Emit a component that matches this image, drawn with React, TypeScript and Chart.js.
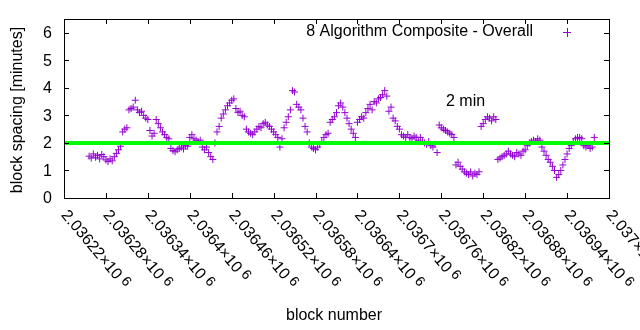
import React, { useEffect, useRef } from "react";
import { Chart, registerables } from "chart.js";

Chart.register(...registerables);

// ---- data ----
const firstBlock = 2036256;
const blockStep = 3;
const spacingMinutes: number[] = [
  1.52, 1.45, 1.6, 1.48, 1.55, 1.42, 1.58, 1.5, 1.38, 1.32,
  1.42, 1.35, 1.5, 1.62, 1.75, 1.88, 2.4, 2.5, 2.55, 3.2,
  3.25, 3.3, 3.55, 3.2, 3.1, 3.15, 3.0, 2.9, 2.85, 2.45,
  2.25, 2.35, 2.85, 2.7, 2.55, 2.4, 2.3, 2.2, 2.15, 1.8,
  1.72, 1.68, 1.75, 1.8, 1.85, 1.78, 1.9, 1.88, 2.2, 2.3,
  2.15, 2.1, 2.05, 2.1, 1.85, 1.75, 1.85, 1.65, 1.5, 1.4,
  2.0, 2.4, 2.6, 2.9, 3.05, 3.2, 3.35, 3.45, 3.55, 3.6,
  3.25, 3.1, 3.15, 3.0, 2.95, 2.5, 2.4, 2.35, 2.3, 2.4,
  2.5, 2.6, 2.55, 2.7, 2.75, 2.65, 2.6, 2.5, 2.4, 2.3,
  2.2, 1.85, 2.15, 2.55, 2.75, 2.95, 3.2, 3.9, 3.85, 3.4,
  3.3, 3.2, 2.9, 2.6, 2.4, 2.0, 1.85, 1.8, 1.75, 1.85,
  1.95, 2.05, 2.2, 2.3, 2.35, 2.75, 2.85, 2.95, 3.1, 3.35,
  3.45, 3.3, 3.1, 2.9, 2.7, 2.5, 2.35, 2.2, 2.75, 2.85,
  2.95, 2.9, 3.1, 3.25, 3.4, 3.2, 3.5, 3.45, 3.6, 3.65,
  3.75, 3.9, 3.7, 3.15, 3.3, 2.9, 2.8, 2.6, 2.5, 2.3,
  2.25, 2.2, 2.3, 2.2, 2.15, 2.25, 2.2, 2.1, 2.2, 2.05,
  2.0, 1.95, 2.05, 1.9, 1.85, 1.95, 1.65, 2.65, 2.55, 2.5,
  2.45, 2.4, 2.35, 2.3, 2.2, 1.2, 1.3, 1.15, 1.05, 0.95,
  0.9, 0.85, 0.95, 0.8, 0.9, 0.85, 0.95, 2.6, 2.7, 2.85,
  2.95, 2.9, 2.8, 2.95, 2.85, 1.4, 1.45, 1.5, 1.55, 1.6,
  1.7, 1.6, 1.55, 1.5, 1.65, 1.6, 1.55, 1.7, 1.75, 1.9,
  2.0, 2.05, 2.1, 2.05, 2.15, 2.1, 1.85, 1.7, 1.55, 1.4,
  1.3, 1.15, 1.0, 0.75, 0.85, 1.0, 1.2, 1.4, 1.6, 1.8,
  1.9, 2.05, 2.15, 2.2, 2.2, 2.15, 1.9, 1.85, 1.9, 1.8,
  1.85, 2.2,
];
const targetMinutes = 2;

const xMin = 2036220;
const xMax = 2037000;
const xTickValues = [
  2036220, 2036280, 2036340, 2036400, 2036460, 2036520, 2036580,
  2036640, 2036700, 2036760, 2036820, 2036880, 2036940, 2037000,
];
const xTickMantissas = [
  "2.03622", "2.03628", "2.03634", "2.0364", "2.03646", "2.03652", "2.03658",
  "2.03664", "2.0367", "2.03676", "2.03682", "2.03688", "2.03694", "2.037",
];
const xTickExponent = "6";
const yMin = 0;
const yMax = 6.5;
const yTicks = [0, 1, 2, 3, 4, 5, 6];

const seriesLabel = "8 Algorithm Composite - Overall";
const targetLabel = "2 min";
const xTitle = "block number";
const yTitle = "block spacing [minutes]";

// ---- styles ----
const FAMILY = '"Liberation Sans", Arial, sans-serif';
const FONT = `16px ${FAMILY}`;
const SUP_FONT = `14px ${FAMILY}`;
const TEXT = "#000000";
const PURPLE = "#9400d3";
const GREEN = "#00ff00";
const TICK = 5;

const overlay = {
  id: "gnuplotOverlay",
  afterDraw(chart: any) {
    const { ctx, chartArea: a, scales } = chart;
    const xs = scales.x;
    const ys = scales.y;
    ctx.save();
    ctx.strokeStyle = "#000";
    ctx.lineWidth = 1;
    ctx.beginPath();
    yTicks.forEach((v) => {
      const p = Math.round(ys.getPixelForValue(v)) + 0.5;
      ctx.moveTo(a.left, p);
      ctx.lineTo(a.left + TICK, p);
      ctx.moveTo(a.right, p);
      ctx.lineTo(a.right - TICK, p);
    });
    xTickValues.forEach((v) => {
      const p = Math.round(xs.getPixelForValue(v)) + 0.5;
      ctx.moveTo(p, a.bottom);
      ctx.lineTo(p, a.bottom - TICK);
      ctx.moveTo(p, a.top);
      ctx.lineTo(p, a.top + TICK);
    });
    ctx.stroke();
    ctx.strokeRect(a.left + 0.5, a.top + 0.5, a.right - a.left, a.bottom - a.top);

    ctx.fillStyle = TEXT;
    ctx.font = FONT;
    // y tick labels
    ctx.textAlign = "right";
    ctx.textBaseline = "middle";
    yTicks.forEach((v) => {
      ctx.fillText(String(v), a.left - 12, ys.getPixelForValue(v) + 1);
    });
    // x tick labels, rotated clockwise
    const ang = (50 * Math.PI) / 180;
    xTickValues.forEach((v, i) => {
      const p = xs.getPixelForValue(v);
      ctx.save();
      ctx.translate(p, a.bottom + 14.5);
      ctx.rotate(ang);
      ctx.textAlign = "left";
      ctx.textBaseline = "middle";
      ctx.font = FONT;
      const main = xTickMantissas[i] + "\u00d710";
      ctx.fillText(main, 0, 0);
      const w = ctx.measureText(main).width;
      ctx.font = SUP_FONT;
      ctx.fillText(xTickExponent, w + 4, -3);
      ctx.restore();
    });
    // axis titles
    ctx.font = FONT;
    ctx.textAlign = "center";
    ctx.textBaseline = "middle";
    ctx.fillText(xTitle, 334, 316);
    ctx.save();
    ctx.translate(18, 110);
    ctx.rotate(-Math.PI / 2);
    ctx.fillText(yTitle, 0, 0);
    ctx.restore();
    // key
    ctx.textAlign = "right";
    ctx.fillText(seriesLabel, 533, 32);
    ctx.strokeStyle = PURPLE;
    ctx.beginPath();
    ctx.moveTo(563, 32.5);
    ctx.lineTo(571, 32.5);
    ctx.moveTo(567.5, 28);
    ctx.lineTo(567.5, 37);
    ctx.stroke();
    // label
    ctx.fillStyle = TEXT;
    ctx.textAlign = "left";
    ctx.fillText(targetLabel, 446, 102);
    ctx.restore();
  },
};

export default function App() {
  const ref = useRef<HTMLCanvasElement | null>(null);
  useEffect(() => {
    if (!ref.current) return;
    const points = spacingMinutes.map((v, i) => ({ x: firstBlock + i * blockStep, y: v }));
    const chart = new Chart(ref.current, {
      type: "scatter",
      data: {
        datasets: [
          {
            label: "target",
            data: [
              { x: xMin, y: targetMinutes },
              { x: xMax, y: targetMinutes },
            ],
            showLine: true,
            borderColor: GREEN,
            backgroundColor: GREEN,
            borderWidth: 4,
            pointRadius: 0,
            order: 0,
          } as any,
          {
            label: seriesLabel,
            data: points,
            showLine: false,
            pointStyle: "cross",
            pointRadius: 3.5,
            pointBorderWidth: 1,
            borderColor: PURPLE,
            backgroundColor: PURPLE,
            order: 1,
          } as any,
        ],
      },
      options: {
        responsive: false,
        animation: false,
        events: [],
        layout: { padding: { left: 64, right: 31, top: 19, bottom: 132 } },
        scales: {
          x: { type: "linear", min: xMin, max: xMax, display: false },
          y: { type: "linear", min: yMin, max: yMax, display: false },
        },
        plugins: {
          legend: { display: false },
          tooltip: { enabled: false },
        },
      },
      plugins: [overlay],
    });
    return () => chart.destroy();
  }, []);
  return (
    <div style={{ position: "fixed", left: 0, top: 0, width: 640, height: 330, background: "#fff" }}>
      <canvas ref={ref} width={640} height={330} style={{ display: "block" }} />
    </div>
  );
}
